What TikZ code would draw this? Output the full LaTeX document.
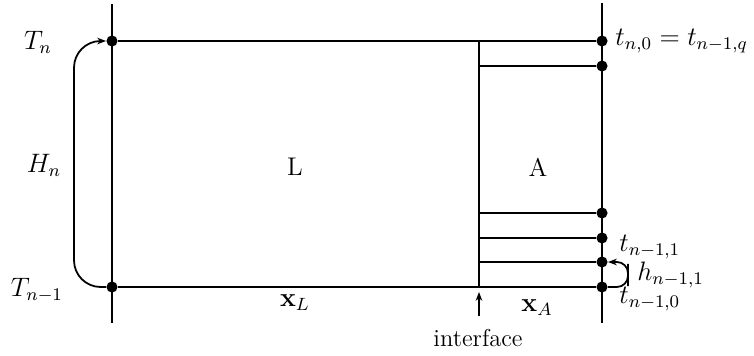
\documentclass[tikz,border=0pt]{standalone}
\usetikzlibrary{arrows.meta}
\begin{document}
\begin{tikzpicture}[x=0.45pt,y=-0.45pt,
  dot/.style={circle,fill=black,inner sep=0pt,minimum size=5pt},
  ln/.style={line width=0.8pt},
  thk/.style={line width=1.1pt},
  lbl/.style={inner sep=0pt,font=\fontsize{11.5}{14}\selectfont},
  txt/.style={inner sep=0pt},
  >={Stealth[length=4pt,width=3pt]}]
\useasboundingbox (0,0) rectangle (754,356);
% frame coordinates
\coordinate (Ltop) at (112,4);
\coordinate (Lbot) at (112,323);
\coordinate (Rtop) at (602,3);
\coordinate (Rbot) at (602,323);
\coordinate (Itop) at (479,41);
\coordinate (Ibot) at (479,287);
\coordinate (i1) at (479,66);
\coordinate (i2) at (479,213);
\coordinate (i3) at (479,238);
\coordinate (i4) at (479,262);
% dots
\node[dot] (Tn) at (112,41) {};
\node[dot] (Tn1) at (112,287) {};
\node[dot] (q) at (602,41) {};
\node[dot] (r1) at (602,66) {};
\node[dot] (r2) at (602,213) {};
\node[dot] (r3) at (602,238) {};
\node[dot] (r4) at (602,262) {};
\node[dot] (r5) at (602,287) {};
% lines
\draw[ln] (Ltop) -- (Lbot);
\draw[ln] (Rtop) -- (Rbot);
\draw[ln] (Tn) -- (q);
\draw[ln] (Tn1) -- (r5);
\draw[thk] (Itop) -- (Ibot);
\draw[ln] (i1) -- (r1);
\draw[ln] (i2) -- (r2);
\draw[ln] (i3) -- (r3);
\draw[ln] (i4) -- (r4);
% loops
\coordinate (hl) at (74,165);
\draw[ln,->,rounded corners=12pt] (Tn1) -| (hl) |- (Tn);
\coordinate (hr) at (628,275);
\draw[ln,->,rounded corners=5pt] (r5) -| (hr) |- (r4);
% interface arrow
\coordinate (ia) at (479,316);
\coordinate (ib) at (479,292);
\draw[line width=0.6pt,->] (ia) -- (ib);
% labels
\node[lbl] (lTn) at (38,42) {$T_n$};
\node[lbl] (lTn1) at (37,290) {$T_{n-1}$};
\node[lbl] (lHn) at (44,165) {$H_n$};
\node[txt,font=\fontsize{11.5}{13}\selectfont] (lL) at (295,167) {L};
\node[txt,font=\fontsize{11.5}{13}\selectfont] (lA) at (538,167) {A};
\node[lbl] (lxL) at (295,303) {$\mathbf{x}_L$};
\node[lbl] (lxA) at (537,308) {$\mathbf{x}_A$};
\node[txt,font=\fontsize{11}{13}\selectfont] (lint) at (478,338) {interface};
\node[lbl,anchor=west] (ltq) at (615,41) {$t_{n,0}=t_{n-1,q}$};
\node[lbl,anchor=west] (lt1) at (619,247) {$t_{n-1,1}$};
\node[lbl,anchor=west] (lh1) at (637,275) {$h_{n-1,1}$};
\node[lbl,anchor=west] (lt0) at (619,299) {$t_{n-1,0}$};
\end{tikzpicture}
\end{document}
